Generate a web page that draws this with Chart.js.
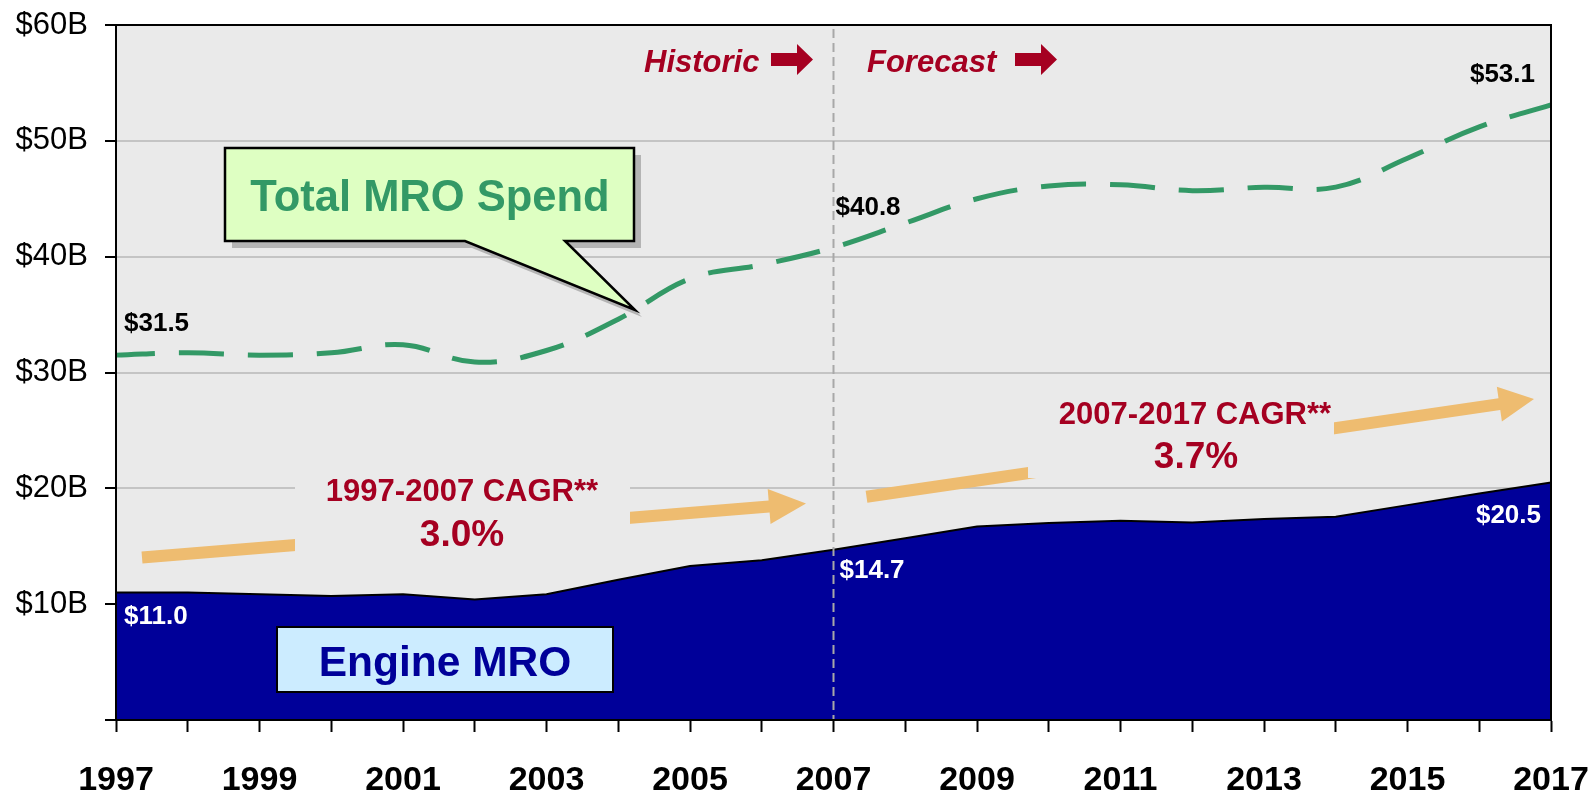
<!DOCTYPE html>
<html>
<head>
<meta charset="utf-8">
<script src="https://cdn.jsdelivr.net/npm/chart.js@4.4.1/dist/chart.umd.min.js"></script>
<style>
  html, body { margin: 0; padding: 0; background: #fff; }
  #contenitore { width: 1595px; height: 792px; }
</style>
</head>
<body>
<div id="contenitore"><canvas id="grafico_mro"></canvas></div>
<script>
// anni sull'asse x
var anni = ['1997', '1998', '1999', '2000', '2001', '2002', '2003', '2004', '2005', '2006', '2007',
            '2008', '2009', '2010', '2011', '2012', '2013', '2014', '2015', '2016', '2017'];
// spesa MRO totale (miliardi $)
var totale_mro = [31.5, 31.7, 31.5, 31.7, 32.4, 30.9, 31.9, 34.6, 38.1, 39.3, 40.8,
                  42.9, 45.0, 46.1, 46.2, 45.7, 46.0, 46.0, 48.5, 51.2, 53.1];
// spesa MRO motori (miliardi $)
var motori_mro = [11.0, 11.0, 10.85, 10.7, 10.85, 10.4, 10.85, 12.1, 13.3, 13.8, 14.7,
                  15.7, 16.7, 17.0, 17.2, 17.05, 17.35, 17.55, 18.55, 19.55, 20.5];
// tacche asse y
var tacche_y = [0, 10, 20, 30, 40, 50, 60];
var anno_divisorio = '2007';
var testo_cagr_1 = ['1997-2007 CAGR**', '3.0%'];
var testo_cagr_2 = ['2007-2017 CAGR**', '3.7%'];

var ROSSO = '#A50021';
var VERDE = '#339966';
var BLU = '#000099';
var ARANCIO = '#EEBC70';
var FONT = '"Liberation Sans", Arial, sans-serif';

// disegna una freccia piena da (x1,y1) a punta (x2,y2)
function freccia(ctx, x1, y1, x2, y2, spessore, lungTesta, largTesta, colore) {
  var ang = Math.atan2(y2 - y1, x2 - x1);
  var len = Math.hypot(x2 - x1, y2 - y1);
  ctx.save();
  ctx.translate(x1, y1);
  ctx.rotate(ang);
  ctx.fillStyle = colore;
  ctx.beginPath();
  ctx.moveTo(0, -spessore / 2);
  ctx.lineTo(len - lungTesta, -spessore / 2);
  ctx.lineTo(len - lungTesta, -largTesta / 2);
  ctx.lineTo(len, 0);
  ctx.lineTo(len - lungTesta, largTesta / 2);
  ctx.lineTo(len - lungTesta, spessore / 2);
  ctx.lineTo(0, spessore / 2);
  ctx.closePath();
  ctx.fill();
  ctx.restore();
}

function testo(ctx, t, x, y, font, colore, allinea) {
  ctx.font = font;
  ctx.fillStyle = colore;
  ctx.textAlign = allinea || 'left';
  ctx.textBaseline = 'alphabetic';
  ctx.fillText(t, x, y);
}

var sfondo_plugin = {
  id: 'sfondo',
  beforeDraw: function(chart) {
    var a = chart.chartArea, ctx = chart.ctx;
    ctx.save();
    ctx.fillStyle = '#EAEAEA';
    ctx.fillRect(a.left, a.top, a.right - a.left, a.bottom - a.top);
    ctx.restore();
  },
  afterDatasetsDraw: function(chart) {
    var a = chart.chartArea, ctx = chart.ctx;
    var xs = chart.scales.x;
    var xd = xs.getPixelForValue(anni.indexOf(anno_divisorio));
    ctx.save();
    // linea tratteggiata historic / forecast
    ctx.strokeStyle = '#A8A8A8';
    ctx.lineWidth = 2;
    ctx.setLineDash([9, 5]);
    ctx.beginPath();
    ctx.moveTo(xd, a.top + 4);
    ctx.lineTo(xd, a.bottom);
    ctx.stroke();
    ctx.setLineDash([]);
    // bordo area grafico
    ctx.strokeStyle = '#000';
    ctx.lineWidth = 2;
    ctx.strokeRect(a.left, a.top, a.right - a.left, a.bottom - a.top);
    ctx.restore();
  },
  afterDraw: function(chart) {
    var ctx = chart.ctx;
    var xs = chart.scales.x, ys = chart.scales.y;
    ctx.save();

    // frecce CAGR
    freccia(ctx, 142, 557.5, 806, 503.5, 12, 37, 35, ARANCIO);
    freccia(ctx, 866.5, 496.7, 1534, 399, 12, 35, 35, ARANCIO);
    ctx.fillStyle = '#EAEAEA';
    ctx.fillRect(295, 466, 335, 92);
    ctx.fillRect(1028, 386, 306, 92);
    testo(ctx, testo_cagr_1[0], 462, 500.5, 'bold 31px ' + FONT, ROSSO, 'center');
    testo(ctx, testo_cagr_1[1], 462, 546, 'bold 37px ' + FONT, ROSSO, 'center');
    testo(ctx, testo_cagr_2[0], 1195, 423.5, 'bold 31px ' + FONT, ROSSO, 'center');
    testo(ctx, testo_cagr_2[1], 1196, 468, 'bold 37px ' + FONT, ROSSO, 'center');

    // Historic / Forecast
    testo(ctx, 'Historic', 644, 71.5, 'italic bold 31px ' + FONT, ROSSO, 'left');
    testo(ctx, 'Forecast', 867, 71.5, 'italic bold 31px ' + FONT, ROSSO, 'left');
    freccia(ctx, 771, 59.5, 813, 59.5, 13, 16, 31, ROSSO);
    freccia(ctx, 1015, 59.5, 1057, 59.5, 13, 16, 31, ROSSO);

    // fumetto Total MRO Spend
    function fumetto(dx, dy) {
      ctx.beginPath();
      ctx.moveTo(225 + dx, 148 + dy);
      ctx.lineTo(634 + dx, 148 + dy);
      ctx.lineTo(634 + dx, 241 + dy);
      ctx.lineTo(565 + dx, 241 + dy);
      ctx.lineTo(635 + dx, 310 + dy);
      ctx.lineTo(465 + dx, 241 + dy);
      ctx.lineTo(225 + dx, 241 + dy);
      ctx.closePath();
    }
    ctx.fillStyle = '#B4B4B4';
    fumetto(7, 7);
    ctx.fill();
    ctx.fillStyle = '#DEFFC2';
    ctx.strokeStyle = '#000';
    ctx.lineWidth = 2.5;
    ctx.lineJoin = 'miter';
    fumetto(0, 0);
    ctx.fill();
    ctx.stroke();
    testo(ctx, 'Total MRO Spend', 430, 211, 'bold 43.5px ' + FONT, VERDE, 'center');

    // riquadro Engine MRO
    ctx.fillStyle = '#CCECFF';
    ctx.fillRect(277, 627, 336, 65);
    ctx.lineWidth = 2;
    ctx.strokeRect(277, 627, 336, 65);
    testo(ctx, 'Engine MRO', 445, 676, 'bold 42.5px ' + FONT, BLU, 'center');

    // etichette valori
    var fEt = 'bold 26px ' + FONT;
    var n = anni.length - 1, i7 = anni.indexOf(anno_divisorio);
    function et(v) { return '$' + v.toFixed(1); }
    testo(ctx, et(totale_mro[0]), xs.getPixelForValue(0) + 8, ys.getPixelForValue(totale_mro[0]) - 24.5, fEt, '#000', 'left');
    testo(ctx, et(totale_mro[i7]), xs.getPixelForValue(i7) + 2, ys.getPixelForValue(totale_mro[i7]) - 32.5, fEt, '#000', 'left');
    testo(ctx, et(totale_mro[n]), xs.getPixelForValue(n) - 16, ys.getPixelForValue(totale_mro[n]) - 23, fEt, '#000', 'right');
    testo(ctx, et(motori_mro[0]), xs.getPixelForValue(0) + 8, ys.getPixelForValue(motori_mro[0]) + 31.5, fEt, '#fff', 'left');
    testo(ctx, et(motori_mro[i7]), xs.getPixelForValue(i7) + 6, ys.getPixelForValue(motori_mro[i7]) + 28, fEt, '#fff', 'left');
    testo(ctx, et(motori_mro[n]), xs.getPixelForValue(n) - 10, ys.getPixelForValue(motori_mro[n]) + 40, fEt, '#fff', 'right');

    ctx.restore();
  }
};

var grafico = new Chart(document.getElementById('grafico_mro'), {
  type: 'line',
  data: {
    labels: anni,
    datasets: [{
      label: 'Total MRO Spend',
      data: totale_mro,
      borderColor: VERDE,
      borderWidth: 5,
      borderDash: [45, 24],
      borderDashOffset: 6,
      borderCapStyle: 'butt',
      tension: 0.4,
      pointRadius: 0,
      fill: false
    }, {
      label: 'Engine MRO',
      data: motori_mro,
      borderColor: '#000',
      borderWidth: 2,
      backgroundColor: BLU,
      tension: 0,
      pointRadius: 0,
      fill: 'origin'
    }]
  },
  options: {
    responsive: true,
    maintainAspectRatio: false,
    animation: false,
    layout: { padding: { left: 0, right: 44, top: 25, bottom: 0 } },
    plugins: { legend: { display: false }, tooltip: { enabled: false } },
    scales: {
      x: {
        offset: false,
        afterFit: function(s) { s.height = 72; s.paddingLeft = 0; s.paddingRight = 0; },
        grid: { drawOnChartArea: false, tickLength: 12, tickColor: '#000', tickWidth: 2, offset: false },
        border: { color: '#000', width: 2 },
        ticks: {
          autoSkip: false,
          maxRotation: 0,
          padding: 28,
          color: '#000',
          font: { family: FONT, size: 34, weight: 'bold' },
          callback: function(v, i) { return i % 2 === 0 ? anni[i] : ''; }
        }
      },
      y: {
        min: tacche_y[0],
        max: tacche_y[tacche_y.length - 1],
        afterFit: function(s) { s.width = 116; s.paddingTop = 0; s.paddingBottom = 0; },
        afterBuildTicks: function(s) { s.ticks = tacche_y.map(function(v) { return { value: v }; }); },
        grid: { color: '#C4C4C4', lineWidth: 2, tickLength: 11, tickColor: '#000', tickWidth: 2 },
        border: { color: '#000', width: 2 },
        ticks: {
          padding: 17,
          color: '#000',
          font: { family: FONT, size: 31 },
          callback: function(v) { return v === 0 ? '' : '$' + v + 'B'; }
        }
      }
    }
  },
  plugins: [sfondo_plugin]
});
</script>
</body>
</html>
